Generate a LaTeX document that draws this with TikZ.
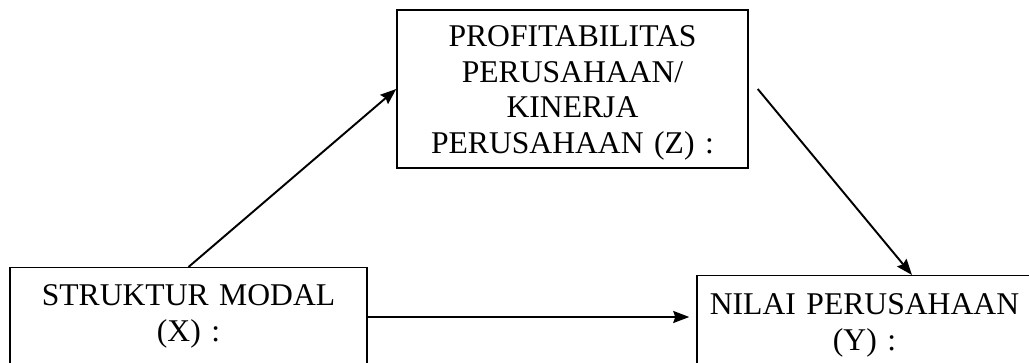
\documentclass[tikz,border=0pt]{standalone}
\usepackage{fontspec}
\setmainfont{Liberation Serif}
\usetikzlibrary{arrows.meta}
\tikzset{
    kotak/.style={draw,line width=0.85pt,align=center,inner xsep=0pt,inner ysep=0.34cm,font=\fontsize{18}{20.5}\selectfont},
    panah/.style={line width=1.1pt,-{Stealth[length=0.32cm,width=0.24cm,inset=0.04cm]}}
}

\begin{document}
\begin{tikzpicture}
    \useasboundingbox (0,0) rectangle (20.58,7.24);
    \clip (0,0) rectangle (20.58,7.24);
    % kotak-kotak
    \node [kotak,font=\fontsize{18}{20.2}\selectfont,minimum width=7.02cm,minimum height=3.16cm,inner ysep=0.2cm,text width=6.9cm,text depth=2.1cm] (z) at (11.45,5.46)
        {PROFITABILITAS\\PERUSAHAAN/\\KINERJA\\PERUSAHAAN (Z) :};
    \node [kotak,anchor=north,minimum width=7.14cm,text width=7cm,text depth=2cm,inner ysep=0.33cm] (x) at (3.77,1.9)
        {STRUKTUR MODAL\\(X) :\\[6pt]DAR DER};
    \node [kotak,anchor=north,minimum width=6.7cm,text width=6.6cm,text depth=2cm,inner ysep=0.36cm] (y) at (17.29,1.74)
        {NILAI PERUSAHAAN\\(Y) :};
    % panah
    \coordinate (garis) at (0,0.9);
    \draw [panah] (x.north) -- (z.west);
    \draw [panah] ([xshift=0.18cm]z.east) -- ([xshift=0.95cm]y.north);
    \draw [panah] (x.east |- garis) -- ([xshift=-0.14cm]y.west |- garis);
\end{tikzpicture}
\end{document}
